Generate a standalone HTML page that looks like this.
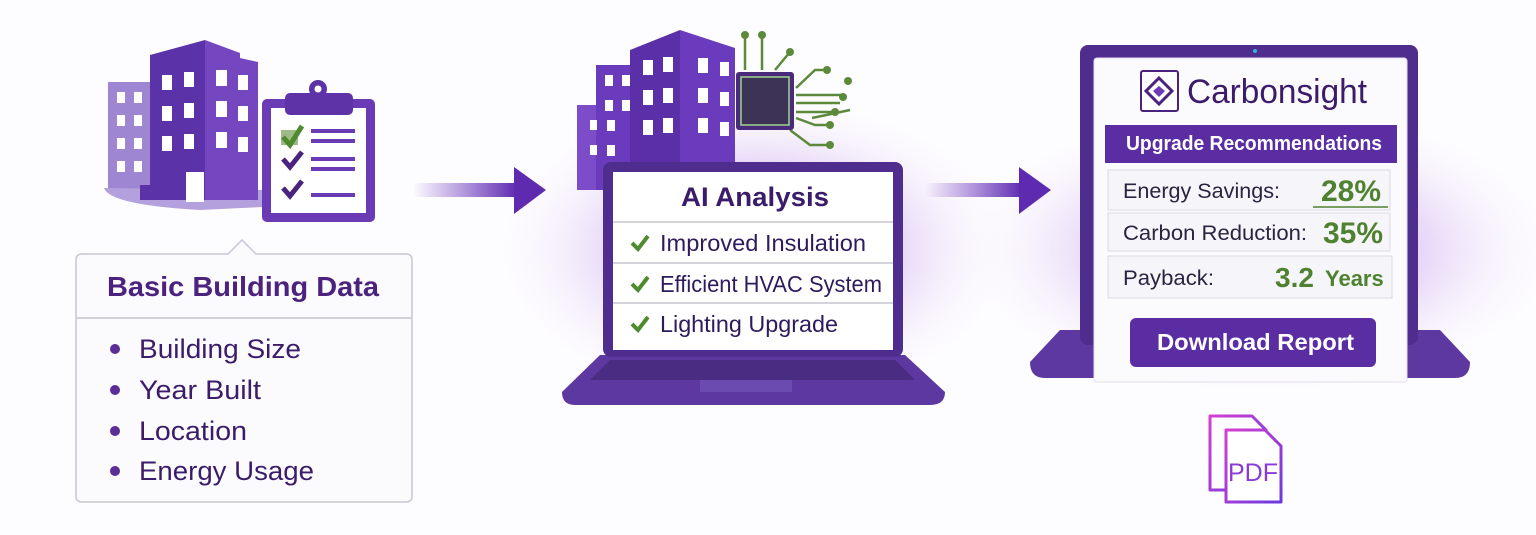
<!DOCTYPE html>
<html><head><meta charset="utf-8"><style>
html,body{margin:0;padding:0;background:#fdfcfe;}
svg{display:block;font-family:"Liberation Sans","DejaVu Sans",sans-serif;}
</style></head><body>
<svg width="1536" height="535" viewBox="0 0 1536 535" xmlns="http://www.w3.org/2000/svg">
<defs>
<radialGradient id="glow" cx="50%" cy="50%" r="50%">
<stop offset="0" stop-color="#a873e6" stop-opacity="0.7"/>
<stop offset="0.55" stop-color="#cba8f0" stop-opacity="0.4"/>
<stop offset="1" stop-color="#ffffff" stop-opacity="0"/>
</radialGradient>
<linearGradient id="arr" x1="0" x2="1"><stop offset="0" stop-color="#6a2fbf" stop-opacity="0"/><stop offset="1" stop-color="#5e2bb0"/></linearGradient>
<linearGradient id="pdfg" x1="0" x2="1" y1="0" y2="1"><stop offset="0" stop-color="#d63fd0"/><stop offset="1" stop-color="#6a3ae0"/></linearGradient>
</defs>
<rect width="1536" height="535" fill="#fdfcfe"/>
<ellipse cx="755" cy="250" rx="270" ry="160" fill="url(#glow)"/>
<ellipse cx="1260" cy="250" rx="310" ry="150" fill="url(#glow)"/>

<!-- LEFT buildings -->
<path d="M108 82 H150 V190 H108 Z" fill="#9f86d3"/>
<g fill="#fff"><rect x="117" y="92" width="8" height="11"/><rect x="134" y="92" width="8" height="11"/><rect x="117" y="115" width="8" height="11"/><rect x="134" y="115" width="8" height="11"/><rect x="117" y="138" width="8" height="11"/><rect x="134" y="138" width="8" height="11"/><rect x="117" y="161" width="8" height="11"/><rect x="134" y="161" width="8" height="11"/></g>
<path d="M104 188 Q110 205 200 210 L262 207 V190 Z" fill="#b3a0dc"/>
<path d="M150 55 L205 40 V200 H140 V185 H150 Z" fill="#5b32a8"/>
<path d="M205 40 L240 53 V58 L258 62 V200 H205 Z" fill="#7446bf"/>
<g fill="#fff"><rect x="162" y="75" width="10" height="15"/><rect x="184" y="72" width="10" height="15"/><rect x="162" y="106" width="10" height="15"/><rect x="184" y="103" width="10" height="15"/><rect x="162" y="136" width="10" height="15"/><rect x="184" y="134" width="10" height="15"/><rect x="216" y="70" width="11" height="16"/><rect x="238" y="75" width="10" height="15"/><rect x="216" y="101" width="11" height="16"/><rect x="238" y="106" width="10" height="15"/><rect x="216" y="132" width="11" height="16"/><rect x="238" y="137" width="10" height="15"/><rect x="186" y="172" width="18" height="30"/></g>
<!-- clipboard -->
<rect x="262" y="99" width="113" height="123" rx="5" fill="#6a3bb4"/>
<rect x="271" y="108" width="95" height="105" fill="#fff"/>
<rect x="285" y="93" width="68" height="22" rx="5" fill="#5e33a8"/>
<circle cx="318" cy="89" r="9" fill="#5e33a8"/><circle cx="318" cy="89" r="3.5" fill="#fff"/>
<rect x="281" y="130" width="17" height="15" fill="#5e8c3a" opacity="0.6"/>
<path d="M283 137 L290 145 L302 126" stroke="#4f8a2e" stroke-width="5" fill="none"/>
<path d="M283 159 L290 167 L302 152" stroke="#4a237f" stroke-width="5" fill="none"/>
<path d="M283 188 L290 196 L302 181" stroke="#4a237f" stroke-width="5" fill="none"/>
<g stroke="#6a3bb4" stroke-width="4"><line x1="311" y1="131" x2="355" y2="131"/><line x1="311" y1="141" x2="355" y2="141"/><line x1="311" y1="159" x2="355" y2="159"/><line x1="311" y1="169" x2="355" y2="169"/><line x1="311" y1="195" x2="355" y2="195"/></g>

<!-- Left card -->
<path d="M82 254 H228 L242 240 L256 254 H406 Q412 254 412 260 V496 Q412 502 406 502 H82 Q76 502 76 496 V260 Q76 254 82 254 Z" fill="#fbfafd" stroke="#c9c4d6" stroke-width="1.5"/>
<line x1="77" y1="318" x2="411" y2="318" stroke="#d3cfdd" stroke-width="2"/>
<text x="107" y="296" font-size="28" font-weight="bold" fill="#4b237f" textLength="272" lengthAdjust="spacingAndGlyphs">Basic Building Data</text>
<g fill="#5a2d97"><circle cx="115" cy="349" r="5"/><circle cx="115" cy="390" r="5"/><circle cx="115" cy="431" r="5"/><circle cx="115" cy="471" r="5"/></g>
<g font-size="27" fill="#3a1c6a"><text x="139" y="358" textLength="162" lengthAdjust="spacingAndGlyphs">Building Size</text><text x="139" y="399" textLength="122" lengthAdjust="spacingAndGlyphs">Year Built</text><text x="139" y="440" textLength="108" lengthAdjust="spacingAndGlyphs">Location</text><text x="139" y="480" textLength="175" lengthAdjust="spacingAndGlyphs">Energy Usage</text></g>

<!-- arrows -->
<rect x="413" y="183" width="104" height="14" fill="url(#arr)"/>
<path d="M514 167 L546 190 L514 214 Z" fill="#5e2bb0"/>
<rect x="925" y="183" width="97" height="14" fill="url(#arr)"/>
<path d="M1019 167 L1051 190 L1019 214 Z" fill="#5e2bb0"/>

<!-- middle buildings -->
<rect x="577" y="105" width="60" height="85" fill="#7d4cc8"/>
<rect x="596" y="65" width="50" height="125" fill="#6a3bbd"/>
<path d="M630 50 L680 30 V190 H630 Z" fill="#5a2fa8"/>
<path d="M680 30 L735 48 V190 H680 Z" fill="#6a3bbd"/>
<g fill="#fff"><rect x="605" y="75" width="8" height="11"/><rect x="622" y="75" width="8" height="11"/><rect x="605" y="100" width="8" height="11"/><rect x="622" y="100" width="8" height="11"/><rect x="590" y="120" width="7" height="10"/><rect x="607" y="120" width="8" height="11"/><rect x="590" y="145" width="7" height="10"/><rect x="607" y="145" width="8" height="11"/><rect x="643" y="60" width="10" height="15"/><rect x="663" y="57" width="10" height="15"/><rect x="643" y="90" width="10" height="15"/><rect x="663" y="88" width="10" height="15"/><rect x="643" y="120" width="10" height="15"/><rect x="663" y="118" width="10" height="15"/><rect x="698" y="58" width="10" height="15"/><rect x="720" y="62" width="9" height="14"/><rect x="698" y="88" width="10" height="15"/><rect x="720" y="92" width="9" height="14"/><rect x="698" y="118" width="10" height="15"/><rect x="720" y="122" width="9" height="14"/></g>
<!-- chip -->
<g stroke="#5c8a3a" stroke-width="2.5" fill="none"><path d="M745 70 V35 M762 70 V35 M775 70 L790 52 M796 88 L815 70 H825 M796 95 H845 M796 103 H840 M796 112 H832 M796 118 L815 125 H830 M790 130 L810 145 H830 M812 118 L850 110"/></g>
<g fill="#5c8a3a"><circle cx="745" cy="35" r="4"/><circle cx="762" cy="35" r="4"/><circle cx="790" cy="52" r="4"/><circle cx="827" cy="70" r="4"/><circle cx="848" cy="81" r="4"/><circle cx="843" cy="97" r="4"/><circle cx="835" cy="112" r="4"/><circle cx="830" cy="125" r="4"/><circle cx="830" cy="145" r="4"/></g>
<rect x="736" y="72" width="58" height="58" rx="3" fill="#4a2a7a"/>
<rect x="741" y="77" width="48" height="48" fill="#3d3357" stroke="#9fd48f" stroke-width="1.5"/>

<!-- middle laptop -->
<path d="M600 355 H905 L945 392 Q945 405 930 405 H575 Q562 405 562 392 Z" fill="#5d38a0"/>
<path d="M610 360 H895 L915 380 H590 Z" fill="#4a2d83"/>
<rect x="700" y="380" width="92" height="12" fill="#6c4bb0"/>
<rect x="603" y="162" width="300" height="195" rx="8" fill="#4f2d8e"/>
<rect x="613" y="172" width="280" height="178" fill="#fff"/>
<text x="681" y="206" font-size="27" font-weight="bold" fill="#3a1c6a" textLength="148" lengthAdjust="spacingAndGlyphs">AI Analysis</text>
<g stroke="#d6d3dc" stroke-width="2"><line x1="613" y1="222" x2="893" y2="222"/><line x1="613" y1="263" x2="893" y2="263"/><line x1="613" y1="303" x2="893" y2="303"/></g>
<g stroke="#4f8a2e" stroke-width="4" fill="none"><path d="M632 243 L638 249 L648 236"/><path d="M632 284 L638 290 L648 277"/><path d="M632 324 L638 330 L648 317"/></g>
<g font-size="23" fill="#2e1a5c"><text x="660" y="251" textLength="206" lengthAdjust="spacingAndGlyphs">Improved Insulation</text><text x="660" y="292" textLength="222" lengthAdjust="spacingAndGlyphs">Efficient HVAC System</text><text x="660" y="332" textLength="178" lengthAdjust="spacingAndGlyphs">Lighting Upgrade</text></g>

<!-- right laptop -->
<path d="M1060 330 H1440 L1470 362 Q1470 378 1455 378 H1045 Q1030 378 1030 362 Z" fill="#5d38a0"/>
<rect x="1080" y="45" width="338" height="300" rx="8" fill="#4f2d8e"/>
<rect x="1094" y="58" width="313" height="324" rx="3" fill="#fbfafd" stroke="#e3def0"/>
<circle cx="1255" cy="51" r="2" fill="#3ab0e0"/>
<rect x="1141" y="71" width="37" height="40" rx="2" fill="#fff" stroke="#4b237f" stroke-width="2"/>
<path d="M1159 78 L1172 91 L1159 104 L1146 91 Z" fill="none" stroke="#4b237f" stroke-width="3"/>
<path d="M1159 86 L1165 91 L1159 97 L1153 91 Z" fill="#6a3bb4"/>
<text x="1187" y="103" font-size="34" fill="#3a1c6a" textLength="180" lengthAdjust="spacingAndGlyphs">Carbonsight</text>
<rect x="1105" y="125" width="292" height="38" fill="#5a2da3"/>
<text x="1126" y="150" font-size="20" font-weight="bold" fill="#fff" textLength="256" lengthAdjust="spacingAndGlyphs">Upgrade Recommendations</text>
<g fill="#f6f5f9" stroke="#dcdae2"><rect x="1108" y="170" width="282" height="40"/><rect x="1108" y="213" width="282" height="38"/><rect x="1108" y="256" width="284" height="42"/></g>
<g font-size="21" fill="#2b2340"><text x="1123" y="198" textLength="157" lengthAdjust="spacingAndGlyphs">Energy Savings:</text><text x="1123" y="240" textLength="184" lengthAdjust="spacingAndGlyphs">Carbon Reduction:</text><text x="1123" y="285" textLength="91" lengthAdjust="spacingAndGlyphs">Payback:</text></g>
<g font-weight="bold" fill="#4f8230"><text x="1381" y="201" text-anchor="end" font-size="30">28%</text><text x="1383" y="243" text-anchor="end" font-size="30">35%</text><text x="1275" y="287" font-size="28">3.2</text><text x="1325" y="286" font-size="22">Years</text></g>
<line x1="1313" y1="207" x2="1388" y2="207" stroke="#4f8230" stroke-width="1.5"/>
<rect x="1130" y="318" width="246" height="49" rx="6" fill="#5a2da3"/>
<text x="1157" y="350" font-size="23" font-weight="bold" fill="#fff" textLength="197" lengthAdjust="spacingAndGlyphs">Download Report</text>

<!-- PDF -->
<path d="M1210 416 H1252 L1266 430 V490 H1210 Z" fill="none" stroke="url(#pdfg)" stroke-width="3" stroke-linejoin="round"/>
<path d="M1226 430 H1265 L1281 446 V502 H1226 Z" fill="#fff" stroke="url(#pdfg)" stroke-width="3" stroke-linejoin="round"/>
<text x="1253" y="481" text-anchor="middle" font-size="25" fill="#8a3ad6">PDF</text>
</svg>
</body></html>
